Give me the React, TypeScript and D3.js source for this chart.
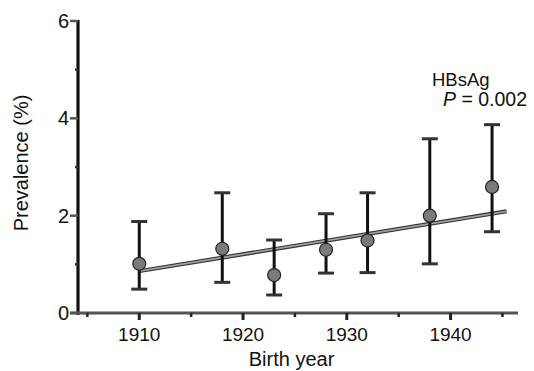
import React, { useEffect, useRef } from 'react';
import * as d3 from 'd3';

const years = [1910, 1918, 1923, 1928, 1932, 1938, 1944];
const prevalence = [1.01, 1.32, 0.78, 1.3, 1.49, 2.0, 2.59];
const lower = [0.49, 0.63, 0.37, 0.82, 0.83, 1.01, 1.67];
const upper = [1.88, 2.47, 1.5, 2.04, 2.47, 3.58, 3.87];
const fitYears = [1910, 1945.4];
const fitValues = [0.86, 2.09];
const xTicks = [1910, 1920, 1930, 1940];
const xMinorTicks = [1905, 1915, 1925, 1935, 1945];
const yTicks = [0, 2, 4, 6];
const yMinorTicks = [1, 3, 5];

const FONT = 'Arial, "Liberation Sans", Helvetica, sans-serif';

const App = () => {
  const ref = useRef<SVGSVGElement>(null);

  useEffect(() => {
    const width = 534;
    const height = 371;
    const svg = d3.select(ref.current);
    svg.selectAll('*').remove();

    const x = d3.scaleLinear().domain([1904, 1946.5]).range([77, 518]);
    const y = d3.scaleLinear().domain([0, 6]).range([313, 21]);

    svg.attr('width', width).attr('height', height);

    // y axis
    const yAxis = svg.append('g').attr('transform', `translate(${x.range()[0] + 1},0)`);
    yAxis.append('line')
      .attr('y1', y(6) - 1).attr('y2', y(0) + 2)
      .attr('stroke', '#111').attr('stroke-width', 3.2);
    yAxis.selectAll('.ymaj').data(yTicks).enter().append('line')
      .attr('x1', -8).attr('x2', 0)
      .attr('y1', d => y(d)).attr('y2', d => y(d))
      .attr('stroke', '#555').attr('stroke-width', 2.5);
    yAxis.selectAll('.ymin').data(yMinorTicks).enter().append('line')
      .attr('x1', -3).attr('x2', 0)
      .attr('y1', d => y(d)).attr('y2', d => y(d))
      .attr('stroke', '#333').attr('stroke-width', 2.5);
    yAxis.selectAll('.ylab').data(yTicks).enter().append('text')
      .attr('x', -9).attr('y', d => y(d) + 7)
      .attr('text-anchor', 'end')
      .attr('font-family', FONT).attr('font-size', 20)
      .attr('fill', '#111')
      .text(d => d);

    // x axis
    const xAxis = svg.append('g').attr('transform', `translate(0,${y(0)})`);
    xAxis.append('line')
      .attr('x1', x.range()[0] - 7).attr('x2', x.range()[1])
      .attr('stroke', '#555').attr('stroke-width', 3);
    xAxis.selectAll('.xmaj').data(xTicks).enter().append('line')
      .attr('x1', d => x(d)).attr('x2', d => x(d))
      .attr('y1', 0).attr('y2', 7)
      .attr('stroke', '#222').attr('stroke-width', 3);
    xAxis.selectAll('.xmin').data(xMinorTicks).enter().append('line')
      .attr('x1', d => x(d)).attr('x2', d => x(d))
      .attr('y1', 0).attr('y2', 4)
      .attr('stroke', '#222').attr('stroke-width', 2.5);
    xAxis.selectAll('.xlab').data(xTicks).enter().append('text')
      .attr('x', d => x(d)).attr('y', 28)
      .attr('text-anchor', 'middle')
      .attr('font-family', FONT).attr('font-size', 19)
      .attr('fill', '#111')
      .text(d => d);

    // axis titles
    svg.append('text')
      .attr('x', (x(1904) + x(1946.5)) / 2 - 6).attr('y', 366)
      .attr('text-anchor', 'middle')
      .attr('font-family', FONT).attr('font-size', 20).attr('fill', '#111')
      .text('Birth year');
    svg.append('text')
      .attr('transform', `translate(28,${(y(0) + y(6)) / 2 - 4}) rotate(-90)`)
      .attr('text-anchor', 'middle')
      .attr('font-family', FONT).attr('font-size', 20).attr('fill', '#111')
      .text('Prevalence (%)');

    // regression line
    const fit = fitYears.map((d, i) => [x(d), y(fitValues[i])] as [number, number]);
    const line = d3.line();
    svg.append('path').attr('d', line(fit)).attr('stroke', '#333').attr('stroke-width', 4).attr('fill', 'none');
    svg.append('path').attr('d', line(fit)).attr('stroke', '#a0a0a0').attr('stroke-width', 1.8).attr('fill', 'none');

    // error bars
    const bars = svg.selectAll('.err').data(years).enter().append('g');
    bars.append('line')
      .attr('x1', d => x(d)).attr('x2', d => x(d))
      .attr('y1', (d, i) => y(upper[i])).attr('y2', (d, i) => y(lower[i]))
      .attr('stroke', '#111').attr('stroke-width', 3);
    bars.append('line')
      .attr('x1', d => x(d) - 8).attr('x2', d => x(d) + 8)
      .attr('y1', (d, i) => y(upper[i])).attr('y2', (d, i) => y(upper[i]))
      .attr('stroke', '#333').attr('stroke-width', 3);
    bars.append('line')
      .attr('x1', d => x(d) - 8).attr('x2', d => x(d) + 8)
      .attr('y1', (d, i) => y(lower[i])).attr('y2', (d, i) => y(lower[i]))
      .attr('stroke', '#333').attr('stroke-width', 3);

    // points
    svg.selectAll('.pt').data(years).enter().append('circle')
      .attr('cx', d => x(d)).attr('cy', (d, i) => y(prevalence[i]))
      .attr('r', 6.5)
      .attr('fill', '#7a7a7a').attr('stroke', '#222').attr('stroke-width', 1.2);

    // annotation
    svg.append('text')
      .attr('x', 432).attr('y', 86)
      .attr('font-family', FONT).attr('font-size', 18.5).attr('fill', '#111')
      .text('HBsAg');
    const p = svg.append('text')
      .attr('x', 443).attr('y', 106)
      .attr('font-family', FONT).attr('font-size', 19.5).attr('fill', '#111');
    p.append('tspan').attr('font-style', 'italic').text('P');
    p.append('tspan').text(' = 0.002');
  }, []);

  return <svg ref={ref} style={{ position: 'absolute', left: 0, top: 0 }} />;
};

export default App;
